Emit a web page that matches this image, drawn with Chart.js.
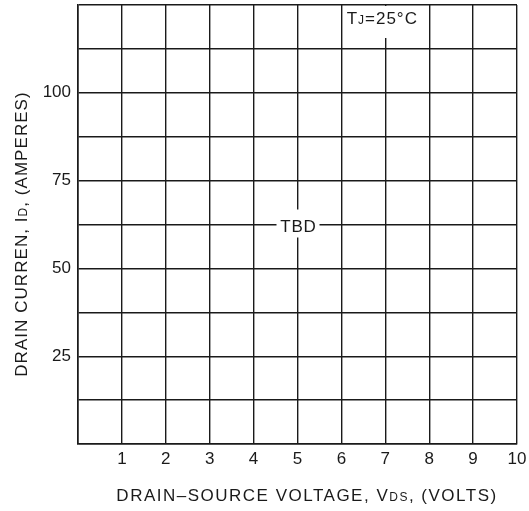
<!DOCTYPE html>
<html>
<head>
<meta charset="utf-8">
<script src="https://cdn.jsdelivr.net/npm/chart.js@4.4.1/dist/chart.umd.min.js"></script>
<style>
  html, body { margin: 0; padding: 0; background: #fff; }
  #wrap { width: 529px; height: 511px; }
</style>
</head>
<body>
<div id="wrap"><canvas id="myChart" width="529" height="511"></canvas></div>
<script>
// axis ranges and tick labels
var xMin = 0, xMax = 10, xStep = 1;
var yMin = 0, yMax = 125, yStep = 12.5;
var xTickLabels = [1, 2, 3, 4, 5, 6, 7, 8, 9, 10];
var yTickLabels = [25, 50, 75, 100];
// notes placed on the grid (value coordinates)
var noteTexts = ["TBD"];
var noteX = [5];
var noteY = [62.5];

var FONT = "'Liberation Sans', Arial, sans-serif";
var INK = '#1a1a1a';

// draws a list of [text, size] pieces one after another, centred on x
function drawPieces(ctx, pieces, x, y, spacing) {
    var total = 0;
    pieces.forEach(function (p) {
        ctx.font = p[1] + 'px ' + FONT;
        ctx.letterSpacing = spacing + 'px';
        total += ctx.measureText(p[0]).width;
    });
    var cx = x - total / 2;
    pieces.forEach(function (p) {
        ctx.font = p[1] + 'px ' + FONT;
        ctx.letterSpacing = spacing + 'px';
        ctx.fillText(p[0], cx, y);
        cx += ctx.measureText(p[0]).width;
    });
    ctx.letterSpacing = '0px';
}

var labelsPlugin = {
    id: 'labels',
    afterDraw: function (chart) {
        var ctx = chart.ctx;
        var xs = chart.scales.x, ys = chart.scales.y;
        var area = chart.chartArea;
        ctx.save();
        ctx.fillStyle = INK;
        ctx.textBaseline = 'alphabetic';
        ctx.textAlign = 'left';

        // x title
        drawPieces(ctx, [["DRAIN\u2013SOURCE VOLTAGE, V", 17], ["DS", 12], [", (VOLTS)", 17]],
            307, 501, 1.5);

        // y title, rotated
        ctx.save();
        ctx.translate(27, 234);
        ctx.rotate(-Math.PI / 2);
        drawPieces(ctx, [["DRAIN CURREN, I", 17], ["D", 12], [", (AMPERES)", 17]], 0, 0, 1.05);
        ctx.restore();

        // notes with white box breaking the grid
        for (var i = 0; i < noteTexts.length; i++) {
            var px = xs.getPixelForValue(noteX[i]);
            var py = ys.getPixelForValue(noteY[i]);
            ctx.fillStyle = '#fff';
            ctx.fillRect(px - 21, py - 15, 43, 28);
            ctx.fillStyle = INK;
            drawPieces(ctx, [[noteTexts[i], 17]], px + 1, py + 7, 0.8);
        }

        // junction temperature label at top of the x=7 line
        var tx = xs.getPixelForValue(7);
        ctx.fillStyle = '#fff';
        ctx.fillRect(tx - 40, area.top + 1, 82, 32);
        ctx.fillStyle = INK;
        drawPieces(ctx, [["T", 17], ["J", 12], ["=25\u00b0C", 17]], tx - 3, 24, 1);
        ctx.restore();
    }
};

// drop the label-driven padding so the plot area fills the frame like the reference
function noPad(s) {
    s.paddingTop = 0; s.paddingBottom = 0; s.paddingLeft = 0; s.paddingRight = 0;
}

var ctx = document.getElementById("myChart").getContext('2d');
var myChart = new Chart(ctx, {
    type: 'scatter',
    data: { datasets: [{ data: [] }] },
    plugins: [labelsPlugin],
    options: {
        responsive: false,
        animation: false,
        layout: { padding: { top: 5, right: 12, left: 0, bottom: 0 } },
        plugins: { legend: { display: false }, tooltip: { enabled: false } },
        scales: {
            x: {
                type: 'linear', min: xMin, max: xMax,
                afterFit: function (s) { s.height = 67; noPad(s); },
                border: { display: true, color: INK, width: 1.6 },
                grid: { color: INK, lineWidth: 1.4, drawTicks: false },
                ticks: {
                    stepSize: xStep, padding: 5, color: INK,
                    font: { family: FONT, size: 17 },
                    callback: function (v) { return xTickLabels.indexOf(v) >= 0 ? String(v) : ''; }
                }
            },
            y: {
                type: 'linear', min: yMin, max: yMax,
                afterFit: function (s) { s.width = 78; noPad(s); },
                border: { display: true, color: INK, width: 1.6 },
                grid: { color: INK, lineWidth: 1.4, drawTicks: false },
                ticks: {
                    stepSize: yStep, padding: 7, color: INK,
                    font: { family: FONT, size: 17 },
                    callback: function (v) { return yTickLabels.indexOf(v) >= 0 ? String(v) : ''; }
                }
            }
        }
    }
});
</script>
</body>
</html>
